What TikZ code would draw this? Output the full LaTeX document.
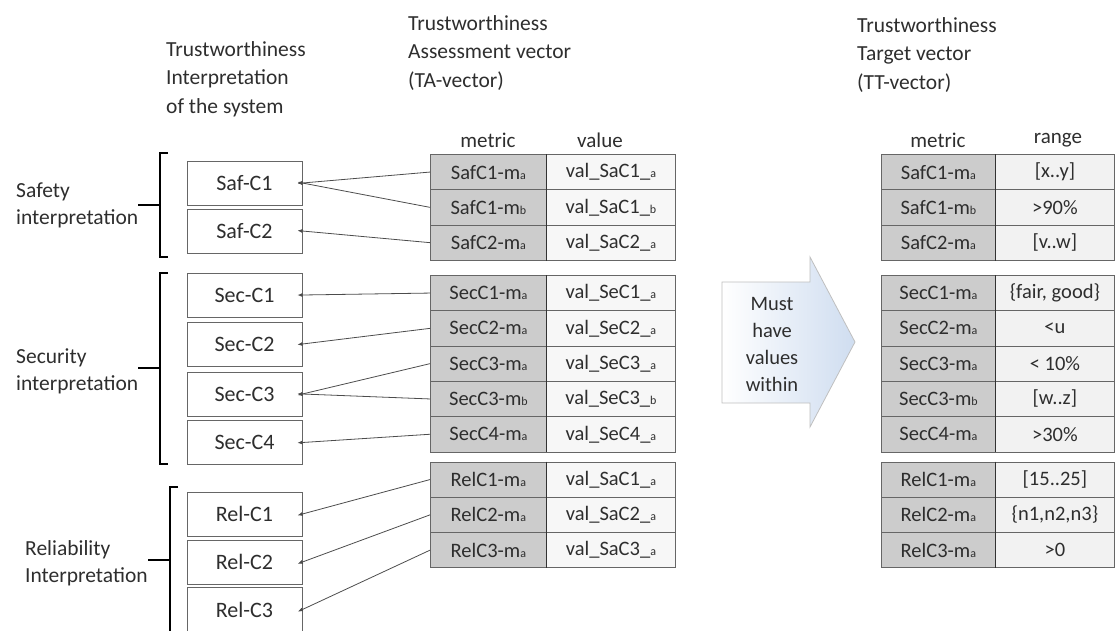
\documentclass[tikz,border=0pt]{standalone}
\usepackage{fontspec}
\setmainfont{Carlito}
\usetikzlibrary{arrows.meta,shadings}
\definecolor{txt}{HTML}{2E2E2E}
\definecolor{arrowblue}{HTML}{CFDDF0}
\newcommand\smx[1]{{\fontsize{12}{12}\selectfont #1}}
\tikzset{
  hdr/.style={anchor=west, align=left, text=txt, inner sep=0pt, font=\fontsize{21.5}{28.5}\selectfont},
  side/.style={anchor=west, align=left, text=txt, inner sep=0pt, font=\fontsize{21.5}{27}\selectfont},
  colh/.style={text=txt, inner sep=0pt, font=\fontsize{21}{21}\selectfont},
  cbox/.style={draw=black!60, line width=0.8pt, fill=white, minimum width=115pt, minimum height=44pt, inner sep=0pt, text=txt, font=\fontsize{22}{22}\selectfont},
  cellbase/.style={draw=black!60, line width=0.8pt, anchor=north west, minimum height=35.3pt, inner sep=0pt, text=txt, font=\fontsize{20.5}{20.5}\selectfont},
  mcell/.style={cellbase, fill=black!20},
  vcell/.style={cellbase, fill=black!3, minimum width=129pt},
  rcell/.style={cellbase, fill=black!5, minimum width=119pt},
  conn/.style={draw=black!70, line width=0.8pt, -{Latex[length=5pt,width=4pt]}, shorten >=-5pt},
  brk/.style={draw=black, line width=1.8pt},
  divl/.style={draw=black!80, line width=1.3pt}
}
\newcommand\tarow[5]{%
  \node[mcell, minimum width=116pt] (m#1) at (430,#2) {#3};
  \node[vcell] (v#1) at (546,#2) {#4};
  \node[mcell, minimum width=114pt] (t#1) at (881,#2) {#3};
  \node[rcell] (r#1) at (995,#2) {#5};
}
\begin{document}
\begin{tikzpicture}[x=1pt,y=-1pt]
\useasboundingbox (0,0) rectangle (1116,630);

% headers
\node[hdr] (h1) at (166,79) {Trustworthiness\\Interpretation\\of the system};
\node[hdr] (h2) at (408,53) {Trustworthiness\\Assessment vector\\(TA-vector)};
\node[hdr] (h3) at (857,55) {Trustworthiness\\Target vector\\(TT-vector)};

\node[colh] (ch1) at (488,140) {metric};
\node[colh] (ch2) at (600,140) {value};
\node[colh] (ch3) at (938,140) {metric};
\node[colh] (ch4) at (1058,140) {range};

% side labels
\node[side] (l1) at (16,205.5) {Safety\\interpretation};
\node[side] (l2) at (16,371.5) {Security\\interpretation};
\node[side] (l3) at (25,563.5) {Reliability\\Interpretation};

% brackets
\draw[brk] (168,153) -- (160,153) -- (160,257) -- (168,257);
\draw[brk] (160,205) -- (138,205);
\draw[brk] (168,273) -- (160,273) -- (160,464) -- (168,464);
\draw[brk] (160,368) -- (138,368);
\draw[brk] (178,487) -- (170,487) -- (170,640);
\draw[brk] (170,560) -- (148,560);

% left boxes
\node[cbox] (safc1) at (244.5,183) {Saf-C1};
\node[cbox] (safc2) at (244.5,231) {Saf-C2};
\node[cbox] (secc1) at (244.5,295) {Sec-C1};
\node[cbox] (secc2) at (244.5,344) {Sec-C2};
\node[cbox] (secc3) at (244.5,394) {Sec-C3};
\node[cbox] (secc4) at (244.5,442.5) {Sec-C4};
\node[cbox] (relc1) at (244.5,514) {Rel-C1};
\node[cbox] (relc2) at (244.5,562) {Rel-C2};
\node[cbox] (relc3) at (244.5,609.5) {Rel-C3};

% tables
\tarow{1}{154}{SafC1-m\smx{a}}{val\_SaC1\_\smx{a}}{[x..y]}
\tarow{2}{189.3}{SafC1-m\smx{b}}{val\_SaC1\_\smx{b}}{>90\%}
\tarow{3}{224.6}{SafC2-m\smx{a}}{val\_SaC2\_\smx{a}}{[v..w]}
\tarow{4}{275}{SecC1-m\smx{a}}{val\_SeC1\_\smx{a}}{\{fair, good\}}
\tarow{5}{310.3}{SecC2-m\smx{a}}{val\_SeC2\_\smx{a}}{<u}
\tarow{6}{345.6}{SecC3-m\smx{a}}{val\_SeC3\_\smx{a}}{< 10\%}
\tarow{7}{380.9}{SecC3-m\smx{b}}{val\_SeC3\_\smx{b}}{[w..z]}
\tarow{8}{416.2}{SecC4-m\smx{a}}{val\_SeC4\_\smx{a}}{>30\%}
\tarow{9}{461.5}{RelC1-m\smx{a}}{val\_SaC1\_\smx{a}}{[15..25]}
\tarow{10}{496.8}{RelC2-m\smx{a}}{val\_SaC2\_\smx{a}}{\{n1,n2,n3\}}
\tarow{11}{532.1}{RelC3-m\smx{a}}{val\_SaC3\_\smx{a}}{>0}

\draw[divl] (m1.north east) -- (m3.south east);
\draw[divl] (m4.north east) -- (m8.south east);
\draw[divl] (m9.north east) -- (m11.south east);
\draw[divl] (t1.north east) -- (t3.south east);
\draw[divl] (t4.north east) -- (t8.south east);
\draw[divl] (t9.north east) -- (t11.south east);

% connectors
\draw[conn] (m1.west) -- (safc1.east);
\draw[conn] (m2.west) -- (safc1.east);
\draw[conn] (m3.west) -- (safc2.east);
\draw[conn] (m4.west) -- (secc1.east);
\draw[conn] (m5.west) -- (secc2.east);
\draw[conn] (m6.west) -- (secc3.east);
\draw[conn] (m7.west) -- (secc3.east);
\draw[conn] (m8.west) -- (secc4.east);
\draw[conn] (m9.west) -- (relc1.east);
\draw[conn] (m10.west) -- (relc2.east);
\draw[conn] (m11.west) -- (relc3.east);

% block arrow
\path[draw=black!25, line width=0.8pt, left color=white, right color=arrowblue]
  (722,282) -- (810,282) -- (810,257) -- (855,342) -- (810,427) -- (810,403) -- (722,403) -- cycle;
\node[align=center, text=txt, inner sep=0pt, font=\fontsize{20.5}{27}\selectfont] (must) at (772,344) {Must\\have\\values\\within};
\end{tikzpicture}
\end{document}
